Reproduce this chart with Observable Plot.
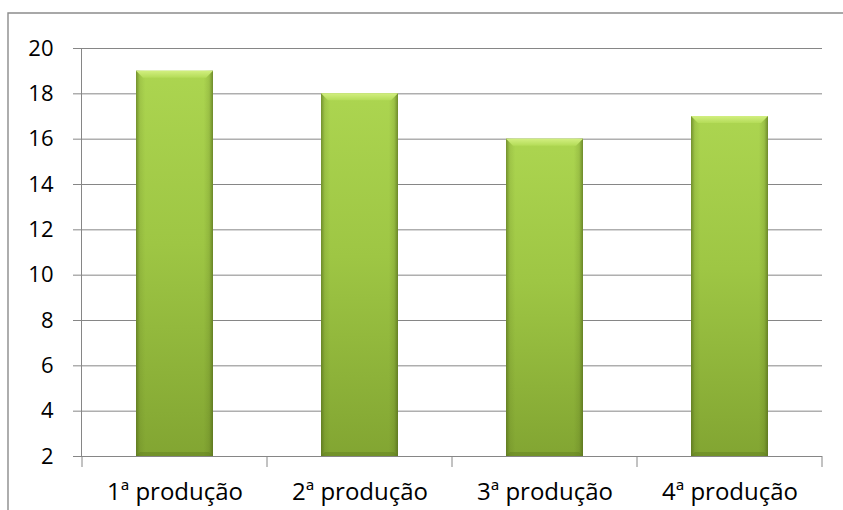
<!DOCTYPE html>
<html>
<head>
<meta charset="utf-8">
<script src="https://cdn.jsdelivr.net/npm/d3@7"></script>
<script src="https://cdn.jsdelivr.net/npm/@observablehq/plot@0.6"></script>
<style>
  body { margin: 0; background: #fff; }
</style>
</head>
<body>
<div id="chart"></div>
<script>
// Production rounds and their results
const categories = ["1ª produção", "2ª produção", "3ª produção", "4ª produção"];
const values = [19, 18, 16, 17];
const yTicks = [2, 4, 6, 8, 10, 12, 14, 16, 18, 20];

const data = categories.map((c, i) => ({categoria: c, valor: values[i]}));

const gray = "#868686";

const chart = Plot.plot({
  width: 843,
  height: 510,
  marginLeft: 81,
  marginRight: 21,
  marginTop: 48,
  marginBottom: 54,
  style: {fontFamily: "'Open Sans', sans-serif", fontSize: "22px", color: "#000", background: "#fff"},
  x: {domain: categories, padding: 0, label: null},
  y: {domain: [2, 20], label: null},
  marks: [
    Plot.gridY(yTicks, {stroke: gray, strokeOpacity: 1}),
    Plot.barY(data, {x: "categoria", y1: 2, y2: "valor", fill: "url(#barFill)", insetLeft: 54, insetRight: 54}),
    Plot.barY(data, {x: "categoria", y1: 2, y2: "valor", fill: "url(#barSides)", insetLeft: 54, insetRight: 54}),
    Plot.axisY(yTicks, {tickSize: 8, tickPadding: 20, stroke: gray, fill: "#000", fontSize: 22, label: null}),
    Plot.axisX({tickSize: 0, tickPadding: 26, fill: "#000", fontSize: 24, label: null}),
    Plot.frame({anchor: "left", stroke: gray})
  ]
});

document.getElementById("chart").append(chart);

const svg = d3.select(chart);

// Gradients for the bevelled green bars
const defs = svg.insert("defs", ":first-child");
const vg = defs.append("linearGradient").attr("id", "barFill")
  .attr("x1", 0).attr("y1", 0).attr("x2", 0).attr("y2", 1);
[[0, "#acd550"], [0.45, "#9ec644"], [1, "#82a532"]].forEach(([o, c]) =>
  vg.append("stop").attr("offset", o).attr("stop-color", c));

const hg = defs.append("linearGradient").attr("id", "barSides")
  .attr("x1", 0).attr("y1", 0).attr("x2", 1).attr("y2", 0);
[[0, 0.55], [0.05, 0.12], [0.12, 0], [0.88, 0], [0.95, 0.15], [1, 0.6]].forEach(([o, a]) =>
  hg.append("stop").attr("offset", o).attr("stop-color", "#465a14").attr("stop-opacity", a));

const tg = defs.append("linearGradient").attr("id", "bevelTop")
  .attr("x1", 0).attr("y1", 0).attr("x2", 0).attr("y2", 1);
[[0, "#d2ef80", 1], [1, "#b4dc58", 1]].forEach(([o, c, a]) =>
  tg.append("stop").attr("offset", o).attr("stop-color", c).attr("stop-opacity", a));

// Bevel highlights on the top edge and a darker lip at the base of each bar
const bevel = svg.append("g").attr("class", "bevels");
svg.select('g[aria-label="bar"]').selectAll("rect").each(function () {
  const x = +this.getAttribute("x"), y = +this.getAttribute("y");
  const w = +this.getAttribute("width"), h = +this.getAttribute("height");
  const b = 7;
  bevel.append("path")
    .attr("d", `M${x},${y}H${x + w}L${x + w - b},${y + b}H${x + b}Z`)
    .attr("fill", "url(#bevelTop)");
  bevel.append("path")
    .attr("d", `M${x},${y + h}H${x + w}L${x + w - 4},${y + h - 4}H${x + 4}Z`)
    .attr("fill", "#5f7d1e").attr("fill-opacity", 0.45);
});

// Category boundary ticks below the baseline
const xs = chart.scale("x"), ys = chart.scale("y");
const bounds = categories.map(c => xs.apply(c)).concat(xs.apply(categories[categories.length - 1]) + xs.bandwidth);
const y0 = ys.apply(2);
svg.append("g").selectAll("line").data(bounds).join("line")
  .attr("x1", d => d).attr("x2", d => d)
  .attr("y1", y0).attr("y2", y0 + 11)
  .attr("stroke", gray);

// Chart area border (top and left edges)
svg.append("path")
  .attr("d", "M8,510V13H843")
  .attr("fill", "none")
  .attr("stroke", "#8c8c8c")
  .attr("stroke-width", 1.4);
</script>
</body>
</html>
